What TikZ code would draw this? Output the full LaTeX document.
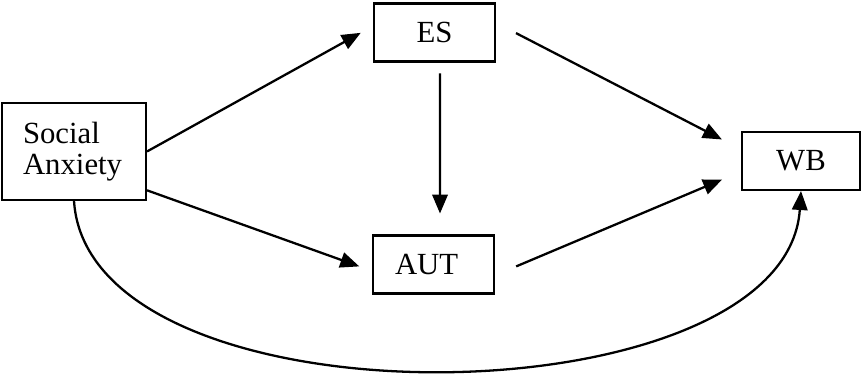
\documentclass[tikz,border=0pt]{standalone}
\usepackage{fontspec}
\setmainfont{Liberation Serif}
\usetikzlibrary{arrows.meta, positioning}
\tikzset{
  var_box/.style={rectangle, draw=black, line width=1.15pt, minimum height=1.16cm, inner ysep=0pt, font=\fontsize{17.5}{17.8}\selectfont},
  left_box/.style={var_box, align=left},
  path_arrow/.style={-{Triangle[length=0.38cm, width=0.31cm]}, line width=1.3pt, black},
}

\begin{document}
\begin{tikzpicture}[x=0.02cm, y=-0.02cm]
  \useasboundingbox (0,0) rectangle (862,381);

  % Variables
  \node[left_box, minimum height=1.94cm, text width=2.04cm, inner xsep=0.42cm] (social_anx) at (74,151.5) {Social\\Anxiety};
  \node[var_box, minimum width=2.42cm] (es_box) at (434.5,32.5) {ES};
  \node[left_box, text width=1.54cm, inner xsep=0.44cm] (aut_box) at (433.5,264.5) {AUT};
  \node[var_box, minimum width=2.36cm] (wb_box) at (801,161) {WB};

  % Paths
  \draw[path_arrow, shorten >=0.28cm] (social_anx.east) -- (es_box.174);
  \draw[path_arrow, shorten >=0.27cm] (social_anx.-28) -- (aut_box.186);
  \draw[path_arrow, shorten <=0.22cm, shorten >=0.42cm] ([xshift=0.11cm]es_box.south) -- ([xshift=0.13cm]aut_box.north);
  \draw[path_arrow, shorten <=0.45cm, shorten >=0.43cm] (es_box.9) -- (wb_box.169);
  \draw[path_arrow, shorten <=0.46cm, shorten >=0.41cm] (aut_box.-10) -- (wb_box.190);

  % Direct effect
  \draw[path_arrow] (social_anx.south) .. controls +(15,232) and +(-15,232) .. (wb_box.south);
\end{tikzpicture}
\end{document}
